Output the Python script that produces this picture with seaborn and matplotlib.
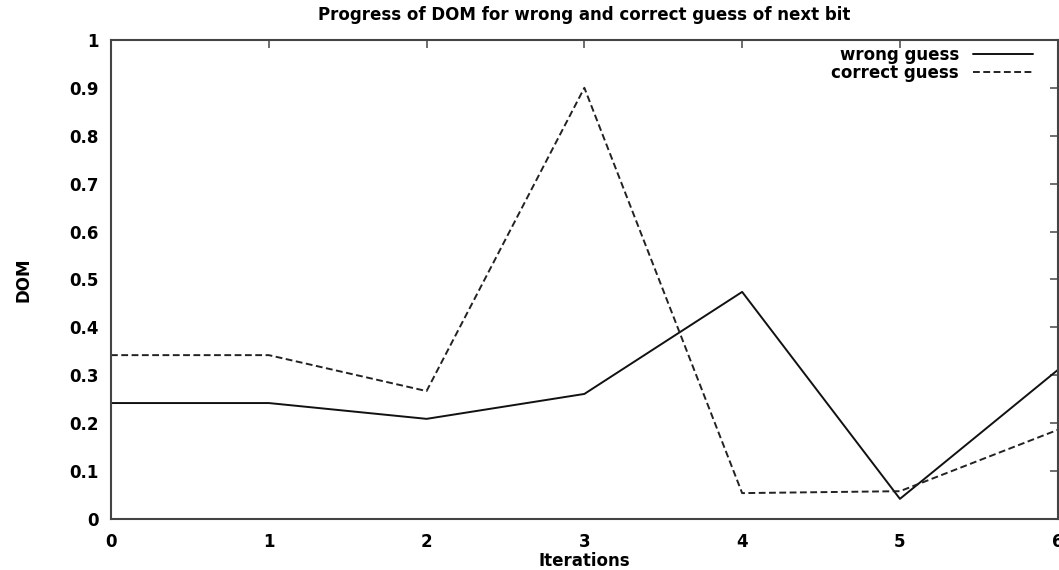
import matplotlib
matplotlib.use("Agg")
import matplotlib.pyplot as plt
import seaborn as sns
import pandas as pd

iterations = [0, 1, 2, 3, 4, 5, 6]
wrong_guess = [0.242, 0.242, 0.209, 0.261, 0.474, 0.042, 0.311]
correct_guess = [0.342, 0.342, 0.267, 0.900, 0.054, 0.058, 0.186]
series_names = ["wrong guess", "correct guess"]
y_ticks = [0, 0.1, 0.2, 0.3, 0.4, 0.5, 0.6, 0.7, 0.8, 0.9, 1]
y_tick_labels = ["0", "0.1", "0.2", "0.3", "0.4", "0.5", "0.6", "0.7", "0.8", "0.9", "1"]

df = pd.DataFrame({
    "Iterations": iterations * 2,
    "DOM": wrong_guess + correct_guess,
    "guess": [series_names[0]] * len(iterations) + [series_names[1]] * len(iterations),
})

sns.set_style("white")
plt.rcParams["font.family"] = ["DejaVu Sans"]
plt.rcParams["font.weight"] = "bold"
plt.rcParams["axes.titleweight"] = "bold"
plt.rcParams["axes.labelweight"] = "bold"
plt.rcParams["text.color"] = "black"
plt.rcParams["axes.labelcolor"] = "black"
fs = 12

fig = plt.figure(figsize=(10.59, 5.70), dpi=100)
ax = fig.add_axes([0.1048, 0.0895, 0.894, 0.8405])

sns.lineplot(data=df, x="Iterations", y="DOM", hue="guess", style="guess",
             palette=["#111111", "#222222"],
             dashes={series_names[0]: "", series_names[1]: (3.5, 1.8)},
             linewidth=1.4, ax=ax)

ax.set_xlim(0, 6)
ax.set_ylim(0, 1)
ax.set_xticks(iterations)
ax.set_yticks(y_ticks)
ax.set_yticklabels(y_tick_labels)
ax.tick_params(direction="in", length=6, width=1.2, top=True, right=True,
               labelsize=fs, colors="#555555", labelcolor="black")
ax.tick_params(axis="x", pad=10)
ax.tick_params(axis="y", pad=9)
for side in ax.spines.values():
    side.set_color("#444444")
    side.set_linewidth(1.5)

ax.set_title("Progress of DOM for wrong and correct guess of next bit",
             fontsize=fs, pad=14, color="black")
ax.set_xlabel("Iterations", fontsize=fs, labelpad=1)
ax.set_ylabel("DOM", fontsize=fs, labelpad=26)

leg = ax.legend(loc="upper right", bbox_to_anchor=(1033 / 1059, 1 - 46 / 570),
                bbox_transform=fig.transFigure, frameon=False, markerfirst=False,
                fontsize=fs, handlelength=3.6, handletextpad=0.85,
                borderaxespad=0, borderpad=0, labelspacing=0)
for t in leg.get_texts():
    t.set_ha("right")
    t.set_color("black")

fig.savefig("out.png", dpi=100)
